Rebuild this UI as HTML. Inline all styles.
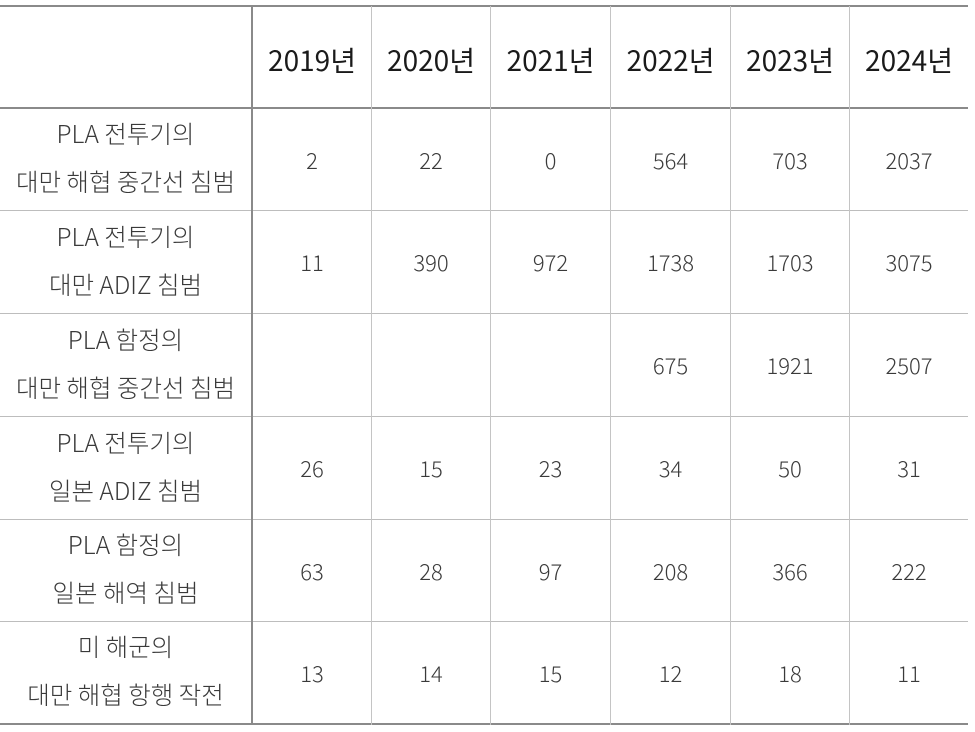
<!DOCTYPE html>
<html><head><meta charset="utf-8"><style>
body{margin:0;width:975px;height:732px;background:#fff;position:relative;overflow:hidden;font-family:"Noto Sans CJK KR","Liberation Sans",sans-serif}
.h{position:absolute;left:0;width:968px;background:#8a8a8a}
.hl{position:absolute;left:0;width:968px;height:1px;background:#bdbdbd}
.v{position:absolute;top:6px;height:719px;width:1px;background:#c4c4c4}
.c{position:absolute;display:flex;align-items:center;justify-content:center;text-align:center;color:#3a3a3a;font-size:22px;line-height:48px;font-weight:300;white-space:nowrap}
.f{font-size:24.5px;padding-bottom:3px;box-sizing:border-box}
.hd{font-size:28px;color:#1a1a1a;font-weight:400;padding-top:6px;box-sizing:border-box}
</style></head><body>
<div class="h" style="top:5px;height:2px"></div>
<div class="h" style="top:107px;height:2px"></div>
<div class="hl" style="top:210px"></div>
<div class="hl" style="top:313px"></div>
<div class="hl" style="top:416px"></div>
<div class="hl" style="top:519px"></div>
<div class="hl" style="top:621px"></div>
<div class="h" style="top:723px;height:2px"></div>
<div class="v" style="left:251px;width:2px;background:#8a8a8a"></div>
<div class="v" style="left:371px"></div>
<div class="v" style="left:490px"></div>
<div class="v" style="left:610px"></div>
<div class="v" style="left:730px"></div>
<div class="v" style="left:849px"></div>
<div id="t"></div>
<script>
var cols=[[0,251],[253,371],[372,490],[491,610],[611,730],[731,849],[850,968]];
var rows=[[7,107],[109,210],[211,313],[314,416],[417,519],[520,621],[622,723]];
var d=[["","2019년","2020년","2021년","2022년","2023년","2024년"],
["PLA 전투기의<br>대만 해협 중간선 침범","2","22","0","564","703","2037"],
["PLA 전투기의<br>대만 ADIZ 침범","11","390","972","1738","1703","3075"],
["PLA 함정의<br>대만 해협 중간선 침범","","","","675","1921","2507"],
["PLA 전투기의<br>일본 ADIZ 침범","26","15","23","34","50","31"],
["PLA 함정의<br>일본 해역 침범","63","28","97","208","366","222"],
["미 해군의<br>대만 해협 항행 작전","13","14","15","12","18","11"]];
var h="";
for(var r=0;r<7;r++)for(var c=0;c<7;c++){
h+='<div class="c'+(r==0?' hd':'')+(c==0?' f':'')+'" style="left:'+cols[c][0]+'px;width:'+(cols[c][1]-cols[c][0])+'px;top:'+rows[r][0]+'px;height:'+(rows[r][1]-rows[r][0])+'px"><span>'+d[r][c]+'</span></div>';}
document.getElementById("t").innerHTML=h;
</script>
</body></html>
